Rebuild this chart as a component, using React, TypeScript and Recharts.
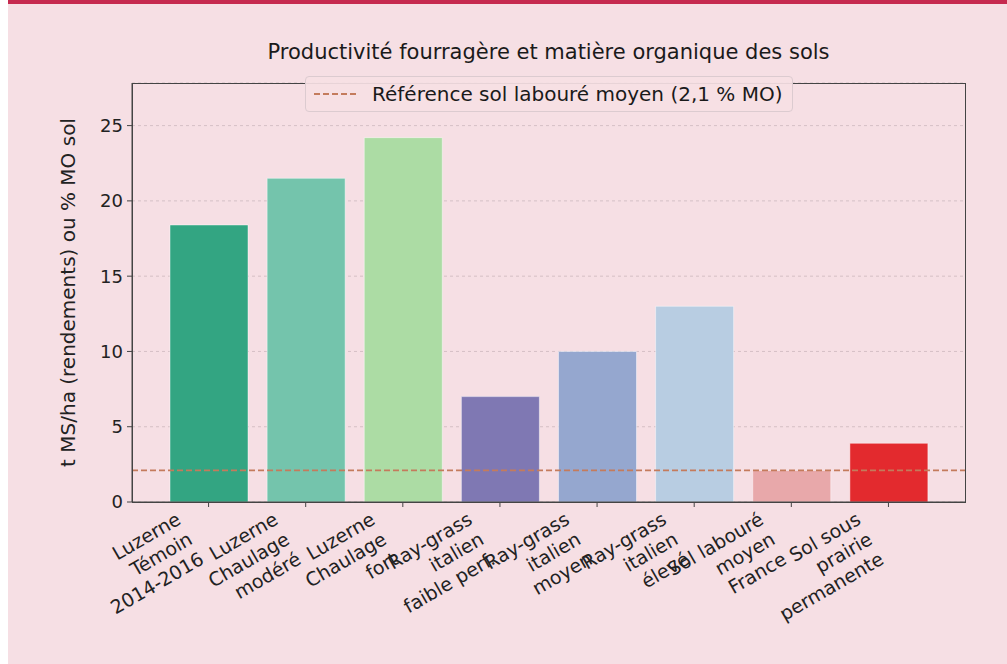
import React from "react";
import { BarChart, Bar, XAxis, YAxis, CartesianGrid, ReferenceLine, Cell } from "recharts";

const categories = [
  "Luzerne\nTémoin\n2014-2016",
  "Luzerne\nChaulage\nmodéré",
  "Luzerne\nChaulage\nfort",
  "Ray-grass\nitalien\nfaible perf.",
  "Ray-grass\nitalien\nmoyen",
  "Ray-grass\nitalien\nélevé",
  "Sol labouré\nmoyen\nFrance",
  "Sol sous\nprairie\npermanente",
];
const values = [18.4, 21.5, 24.2, 7.0, 10.0, 13.0, 2.1, 3.9];
const barColors = ["#33A582", "#74C4AC", "#ACDCA4", "#7F78B3", "#95A7CF", "#B8CDE2", "#E8A8AA", "#E32A2E"];
const refValue = 2.1;
const refLabel = "Référence sol labouré moyen (2,1 % MO)";
const yTicks = [0, 5, 10, 15, 20, 25];
const yMax = 27.83;
const title = "Productivité fourragère et matière organique des sols";
const yLabel = "t MS/ha (rendements) ou % MO sol";

const data = categories.map((name, i) => ({ name, value: values[i] }));

const FONT = "'DejaVu Sans', sans-serif";
const BG = "#F6DFE4";
const FRAME = "#444444";
const REF_COLOR = "#C47B5C";

const XTick = (props: any) => {
  const { x, y, payload } = props;
  const lines = String(payload.value).split("\n");
  const fs = 19;
  const L = 23;
  const h = (lines.length - 1) * L + fs * 1.15;
  return (
    <g transform={`translate(${x - 0.5 * h},${y})`}>
      <text transform="rotate(-30)" textAnchor="end" fontSize={fs} fill="#222" fontFamily={FONT}>
        {lines.map((l, i) => (
          <tspan key={i} x={0} y={fs * 0.8 + i * L}>
            {l}
          </tspan>
        ))}
      </text>
    </g>
  );
};

export default function App() {
  return (
    <div
      style={{
        position: "absolute",
        top: 0,
        left: 8,
        width: 999,
        height: 664,
        background: BG,
        fontFamily: FONT,
        overflow: "hidden",
      }}
    >
      <div style={{ position: "absolute", top: 0, left: 0 }}>
        <BarChart width={999} height={664} data={data} margin={{ top: 83, right: 42, bottom: 0, left: 0 }}>
          <CartesianGrid vertical={false} strokeDasharray="3 3" stroke="#cdb8be" strokeWidth={0.8} />
          <XAxis
            dataKey="name"
            type="category"
            height={162}
            padding={{ left: 28, right: 28 }}
            tick={<XTick />}
            tickSize={5}
            tickMargin={3}
            interval={0}
            axisLine={{ stroke: FRAME, strokeWidth: 1 }}
            tickLine={{ stroke: FRAME }}
          />
          <YAxis
            type="number"
            domain={[0, yMax]}
            ticks={yTicks}
            width={124}
            tickSize={5}
            tickMargin={4}
            allowDataOverflow
            axisLine={{ stroke: FRAME, strokeWidth: 1 }}
            tickLine={{ stroke: FRAME }}
            tick={{ fontSize: 18, fill: "#222", fontFamily: FONT }}
            label={{ value: yLabel, angle: -90, position: "center", dx: -2, fontSize: 20, fill: "#222", fontFamily: FONT }}
          />
          <Bar dataKey="value" barSize={78} isAnimationActive={false} stroke="#ffffff" strokeOpacity={0.45} strokeWidth={1}>
            {data.map((d, i) => (
              <Cell key={d.name} fill={barColors[i]} />
            ))}
          </Bar>
          <ReferenceLine y={refValue} stroke={REF_COLOR} strokeWidth={1.8} strokeDasharray="6 3" />
        </BarChart>
      </div>
      <div
        style={{
          position: "absolute",
          left: 124,
          top: 83,
          width: 834,
          height: 420,
          boxSizing: "border-box",
          border: `1px solid ${FRAME}`,
          pointerEvents: "none",
        }}
      />
      <div style={{ position: "absolute", top: 0, left: 0, width: 999, height: 4, background: "#C62A4F" }} />
      <div
        style={{
          position: "absolute",
          left: 124,
          width: 833,
          top: 40,
          textAlign: "center",
          fontSize: 21,
          lineHeight: "25px",
          color: "#1a1a1a",
          whiteSpace: "nowrap",
        }}
      >
        {title}
      </div>
      <div
        style={{
          position: "absolute",
          left: 297,
          top: 76,
          width: 488,
          height: 36,
          boxSizing: "border-box",
          border: "1px solid #dccbd0",
          borderRadius: 4,
          background: "rgba(246,223,228,0.92)",
          display: "flex",
          alignItems: "center",
          whiteSpace: "nowrap",
        }}
      >
        <svg width={66} height={20} style={{ flex: "none" }}>
          <line x1={8} y1={10} x2={50} y2={10} stroke={REF_COLOR} strokeWidth={1.8} strokeDasharray="6 3" />
        </svg>
        <span style={{ fontSize: 20, color: "#1a1a1a" }}>{refLabel}</span>
      </div>
    </div>
  );
}
